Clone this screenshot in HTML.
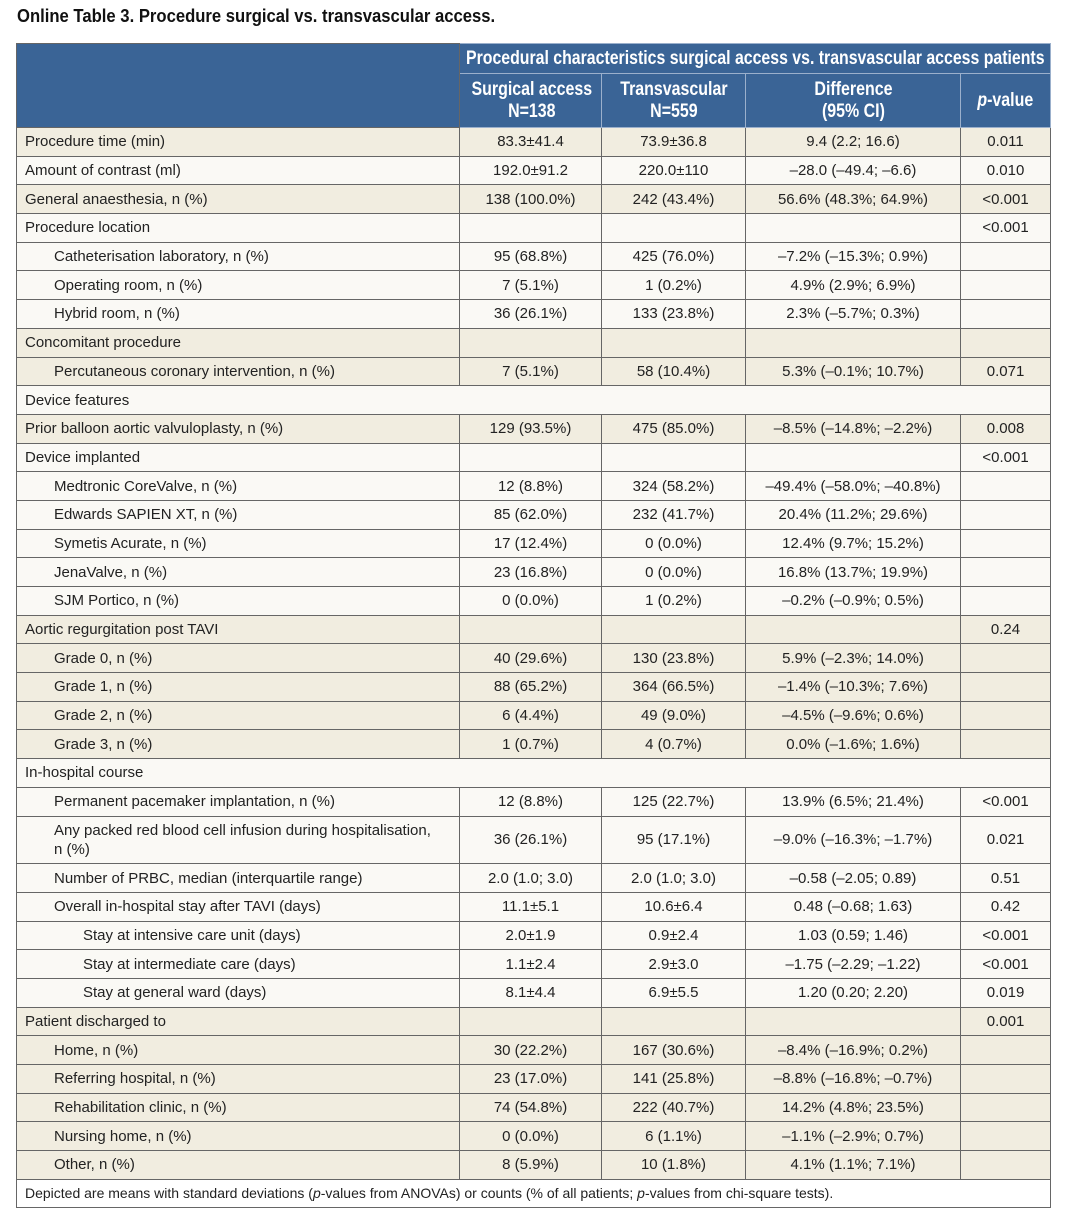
<!DOCTYPE html>
<html><head><meta charset="utf-8"><style>
body{margin:0;background:#fff;width:1072px;height:1230px;position:relative;font-family:"Liberation Sans",sans-serif;}
.t{position:absolute;left:17px;top:5px;font-weight:bold;font-size:18.5px;color:#111;transform:scaleX(0.9);transform-origin:left top;white-space:nowrap;}
table{position:absolute;left:16px;top:43px;border-collapse:collapse;width:1034px;table-layout:fixed;}
td,th{border:1px solid #666;font-size:15px;color:#222;padding:0 8px;height:27.7px;white-space:nowrap;}
th{background:#3a6496;color:#fff;font-size:19px;font-weight:bold;border-color:#9bb0cc;line-height:22px;padding:0;overflow:visible;}
th span{display:inline-block;transform:scaleX(0.84);transform-origin:center;}
th.L{text-align:left;padding-left:6px;}
th.L span{transform:scaleX(0.835);transform-origin:left center;}
tr.h1 th{height:29px;}
tr.h2 th{height:53px;}
td.c{text-align:center;}
tr.b td{background:#f1ede0;}
tr.w td{background:#faf9f5;}
.i1{padding-left:37px;}
.i2{padding-left:66px;}
tr.d td{height:46.7px;line-height:19px;}
.f td{background:#fff;font-size:14px;height:27px;}
</style></head><body>
<div class="t">Online Table 3. Procedure surgical vs. transvascular access.</div>
<table>
<colgroup><col style="width:443px"><col style="width:142px"><col style="width:144px"><col style="width:215px"><col style="width:90px"></colgroup>
<tr class="h1"><th rowspan="2" style="border-color:#666"></th><th colspan="4" class="L"><span>Procedural characteristics surgical access vs. transvascular access patients</span></th></tr>
<tr class="h2"><th><span>Surgical access<br>N=138</span></th><th><span>Transvascular<br>N=559</span></th><th><span>Difference<br>(95% CI)</span></th><th><span><i>p</i>-value</span></th></tr>
<tr class="b"><td>Procedure time (min)</td><td class="c">83.3±41.4</td><td class="c">73.9±36.8</td><td class="c">9.4 (2.2; 16.6)</td><td class="c">0.011</td></tr>
<tr class="w"><td>Amount of contrast (ml)</td><td class="c">192.0±91.2</td><td class="c">220.0±110</td><td class="c">–28.0 (–49.4; –6.6)</td><td class="c">0.010</td></tr>
<tr class="b"><td>General anaesthesia, n (%)</td><td class="c">138 (100.0%)</td><td class="c">242 (43.4%)</td><td class="c">56.6% (48.3%; 64.9%)</td><td class="c">&lt;0.001</td></tr>
<tr class="w"><td>Procedure location</td><td></td><td></td><td></td><td class="c">&lt;0.001</td></tr>
<tr class="w"><td class="i1">Catheterisation laboratory, n (%)</td><td class="c">95 (68.8%)</td><td class="c">425 (76.0%)</td><td class="c">–7.2% (–15.3%; 0.9%)</td><td></td></tr>
<tr class="w"><td class="i1">Operating room, n (%)</td><td class="c">7 (5.1%)</td><td class="c">1 (0.2%)</td><td class="c">4.9% (2.9%; 6.9%)</td><td></td></tr>
<tr class="w"><td class="i1">Hybrid room, n (%)</td><td class="c">36 (26.1%)</td><td class="c">133 (23.8%)</td><td class="c">2.3% (–5.7%; 0.3%)</td><td></td></tr>
<tr class="b"><td>Concomitant procedure</td><td></td><td></td><td></td><td></td></tr>
<tr class="b"><td class="i1">Percutaneous coronary intervention, n (%)</td><td class="c">7 (5.1%)</td><td class="c">58 (10.4%)</td><td class="c">5.3% (–0.1%; 10.7%)</td><td class="c">0.071</td></tr>
<tr class="w"><td colspan="5">Device features</td></tr>
<tr class="b"><td>Prior balloon aortic valvuloplasty, n (%)</td><td class="c">129 (93.5%)</td><td class="c">475 (85.0%)</td><td class="c">–8.5% (–14.8%; –2.2%)</td><td class="c">0.008</td></tr>
<tr class="w"><td>Device implanted</td><td></td><td></td><td></td><td class="c">&lt;0.001</td></tr>
<tr class="w"><td class="i1">Medtronic CoreValve, n (%)</td><td class="c">12 (8.8%)</td><td class="c">324 (58.2%)</td><td class="c">–49.4% (–58.0%; –40.8%)</td><td></td></tr>
<tr class="w"><td class="i1">Edwards SAPIEN XT, n (%)</td><td class="c">85 (62.0%)</td><td class="c">232 (41.7%)</td><td class="c">20.4% (11.2%; 29.6%)</td><td></td></tr>
<tr class="w"><td class="i1">Symetis Acurate, n (%)</td><td class="c">17 (12.4%)</td><td class="c">0 (0.0%)</td><td class="c">12.4% (9.7%; 15.2%)</td><td></td></tr>
<tr class="w"><td class="i1">JenaValve, n (%)</td><td class="c">23 (16.8%)</td><td class="c">0 (0.0%)</td><td class="c">16.8% (13.7%; 19.9%)</td><td></td></tr>
<tr class="w"><td class="i1">SJM Portico, n (%)</td><td class="c">0 (0.0%)</td><td class="c">1 (0.2%)</td><td class="c">–0.2% (–0.9%; 0.5%)</td><td></td></tr>
<tr class="b"><td>Aortic regurgitation post TAVI</td><td></td><td></td><td></td><td class="c">0.24</td></tr>
<tr class="b"><td class="i1">Grade 0, n (%)</td><td class="c">40 (29.6%)</td><td class="c">130 (23.8%)</td><td class="c">5.9% (–2.3%; 14.0%)</td><td></td></tr>
<tr class="b"><td class="i1">Grade 1, n (%)</td><td class="c">88 (65.2%)</td><td class="c">364 (66.5%)</td><td class="c">–1.4% (–10.3%; 7.6%)</td><td></td></tr>
<tr class="b"><td class="i1">Grade 2, n (%)</td><td class="c">6 (4.4%)</td><td class="c">49 (9.0%)</td><td class="c">–4.5% (–9.6%; 0.6%)</td><td></td></tr>
<tr class="b"><td class="i1">Grade 3, n (%)</td><td class="c">1 (0.7%)</td><td class="c">4 (0.7%)</td><td class="c">0.0% (–1.6%; 1.6%)</td><td></td></tr>
<tr class="w"><td colspan="5">In-hospital course</td></tr>
<tr class="w"><td class="i1">Permanent pacemaker implantation, n (%)</td><td class="c">12 (8.8%)</td><td class="c">125 (22.7%)</td><td class="c">13.9% (6.5%; 21.4%)</td><td class="c">&lt;0.001</td></tr>
<tr class="w d"><td class="i1">Any packed red blood cell infusion during hospitalisation,<br>n (%)</td><td class="c">36 (26.1%)</td><td class="c">95 (17.1%)</td><td class="c">–9.0% (–16.3%; –1.7%)</td><td class="c">0.021</td></tr>
<tr class="w"><td class="i1">Number of PRBC, median (interquartile range)</td><td class="c">2.0 (1.0; 3.0)</td><td class="c">2.0 (1.0; 3.0)</td><td class="c">–0.58 (–2.05; 0.89)</td><td class="c">0.51</td></tr>
<tr class="w"><td class="i1">Overall in-hospital stay after TAVI (days)</td><td class="c">11.1±5.1</td><td class="c">10.6±6.4</td><td class="c">0.48 (–0.68; 1.63)</td><td class="c">0.42</td></tr>
<tr class="w"><td class="i2">Stay at intensive care unit (days)</td><td class="c">2.0±1.9</td><td class="c">0.9±2.4</td><td class="c">1.03 (0.59; 1.46)</td><td class="c">&lt;0.001</td></tr>
<tr class="w"><td class="i2">Stay at intermediate care (days)</td><td class="c">1.1±2.4</td><td class="c">2.9±3.0</td><td class="c">–1.75 (–2.29; –1.22)</td><td class="c">&lt;0.001</td></tr>
<tr class="w"><td class="i2">Stay at general ward (days)</td><td class="c">8.1±4.4</td><td class="c">6.9±5.5</td><td class="c">1.20 (0.20; 2.20)</td><td class="c">0.019</td></tr>
<tr class="b"><td>Patient discharged to</td><td></td><td></td><td></td><td class="c">0.001</td></tr>
<tr class="b"><td class="i1">Home, n (%)</td><td class="c">30 (22.2%)</td><td class="c">167 (30.6%)</td><td class="c">–8.4% (–16.9%; 0.2%)</td><td></td></tr>
<tr class="b"><td class="i1">Referring hospital, n (%)</td><td class="c">23 (17.0%)</td><td class="c">141 (25.8%)</td><td class="c">–8.8% (–16.8%; –0.7%)</td><td></td></tr>
<tr class="b"><td class="i1">Rehabilitation clinic, n (%)</td><td class="c">74 (54.8%)</td><td class="c">222 (40.7%)</td><td class="c">14.2% (4.8%; 23.5%)</td><td></td></tr>
<tr class="b"><td class="i1">Nursing home, n (%)</td><td class="c">0 (0.0%)</td><td class="c">6 (1.1%)</td><td class="c">–1.1% (–2.9%; 0.7%)</td><td></td></tr>
<tr class="b"><td class="i1">Other, n (%)</td><td class="c">8 (5.9%)</td><td class="c">10 (1.8%)</td><td class="c">4.1% (1.1%; 7.1%)</td><td></td></tr>
<tr class="f"><td colspan="5">Depicted are means with standard deviations (<i>p</i>-values from ANOVAs) or counts (% of all patients; <i>p</i>-values from chi-square tests).</td></tr>
</table>
</body></html>
